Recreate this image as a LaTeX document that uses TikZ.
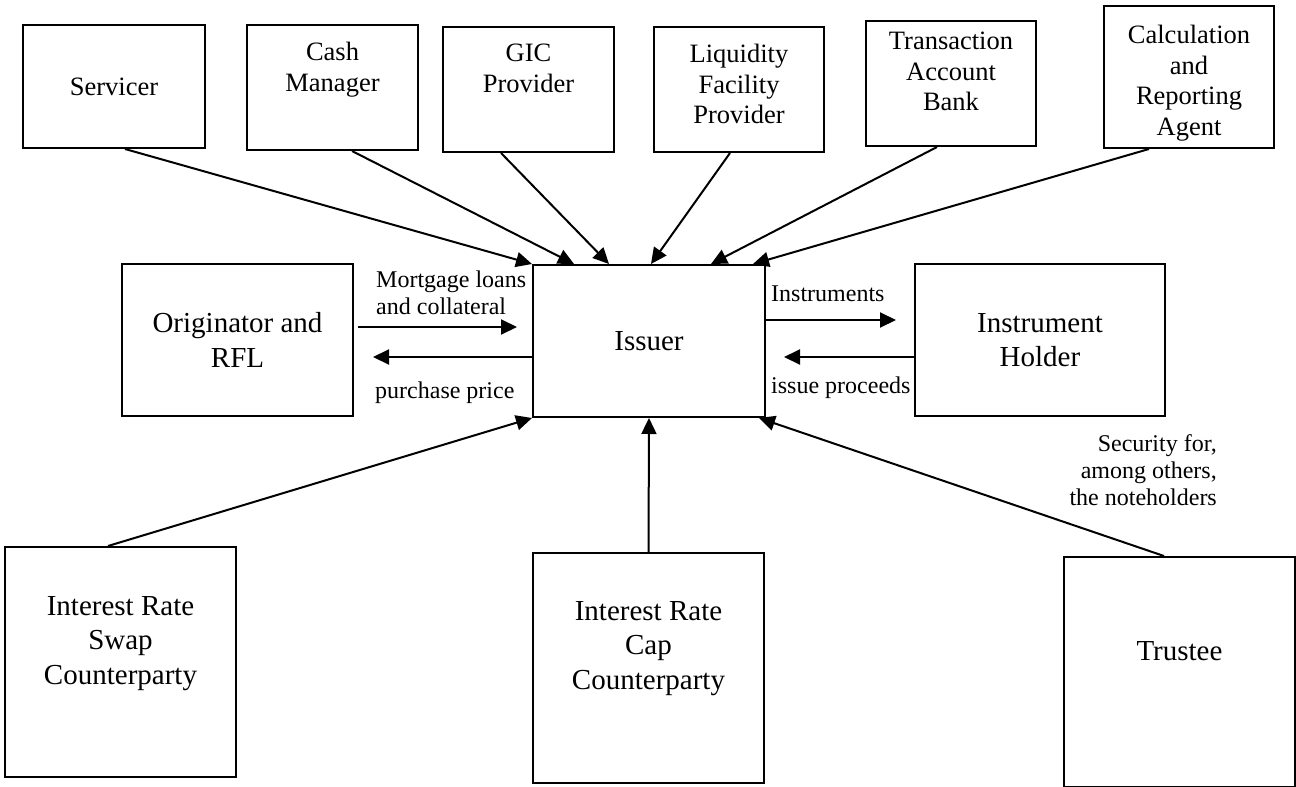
\documentclass[tikz,border=0pt]{standalone}
\usepackage{fontspec}
\setmainfont{Liberation Serif}
\usetikzlibrary{shapes, arrows.meta, positioning}

\begin{document}
\begin{tikzpicture}[x=1pt, y=-1pt,
    party/.style={rectangle, draw=black, line width=2pt, inner sep=0pt},
    toptext/.style={inner sep=0pt, align=center, font=\fontsize{26.5}{30.5}\selectfont},
    bigtext/.style={inner sep=0pt, align=center, font=\fontsize{29}{34.5}\selectfont},
    flowlabel/.style={inner sep=0pt, font=\fontsize{24}{27}\selectfont},
    flow/.style={-{Triangle[length=16pt,width=15pt]}, line width=2pt}]
    \useasboundingbox (0,0) rectangle (1296,787);

    % Define nodes
    \node (servicer) [party, minimum width=182pt, minimum height=123pt, font=\fontsize{26.5}{30.5}\selectfont] at (114,86.5) {Servicer};
    \node (cash) [party, minimum width=171pt, minimum height=125pt] at (332.5,87.5) {};
    \node (cashtxt) [toptext, below=18pt of cash.north] {Cash\\Manager};
    \node (gic) [party, minimum width=171pt, minimum height=125pt] at (528.5,89.5) {};
    \node (gictxt) [toptext, below=18pt of gic.north] {GIC\\Provider};
    \node (liquidity) [party, minimum width=170pt, minimum height=125pt] at (739,89.5) {};
    \node (liquiditytxt) [toptext, below=18pt of liquidity.north] {Liquidity\\Facility\\Provider};
    \node (bank) [party, minimum width=170pt, minimum height=125pt] at (951,83.5) {};
    \node (banktxt) [toptext, below=12pt of bank.north] {Transaction\\Account\\Bank};
    \node (agent) [party, minimum width=170pt, minimum height=142pt] at (1189,77) {};
    \node (agenttxt) [toptext, below=20pt of agent.north] {Calculation\\and\\Reporting\\Agent};

    \node (originator) [party, bigtext, minimum width=231pt, minimum height=152pt] at (237.5,340) {Originator and\\RFL};
    \node (issuer) [party, bigtext, minimum width=232pt, minimum height=152pt] at (649,341) {Issuer};
    \node (holder) [party, bigtext, minimum width=250pt, minimum height=152pt] at (1040,340) {Instrument\\Holder};

    \node (swap) [party, minimum width=231pt, minimum height=230pt] at (120.5,662) {};
    \node (swaptxt) [bigtext, below=50pt of swap.north] {Interest Rate\\Swap\\Counterparty};
    \node (cap) [party, minimum width=231pt, minimum height=230pt] at (648.5,668) {};
    \node (captxt) [bigtext, below=49pt of cap.north] {Interest Rate\\Cap\\Counterparty};
    \node (trustee) [party, minimum width=231pt, minimum height=230pt] at (1179.5,672) {};
    \node (trusteetxt) [bigtext, below=85pt of trustee.north] {Trustee};

    % Connect nodes
    \draw[flow] ([xshift=11pt]servicer.south) -- (issuer.north west);
    \draw[flow] ([xshift=19.5pt]cash.south) -- ([xshift=42pt]issuer.north west);
    \draw[flow] ([xshift=-27.5pt]gic.south) -- ([xshift=77pt]issuer.north west);
    \draw[flow] ([xshift=-9pt]liquidity.south) -- ([xshift=119pt]issuer.north west);
    \draw[flow] ([xshift=-14pt]bank.south) -- ([xshift=179pt]issuer.north west);
    \draw[flow] ([xshift=-40pt]agent.south) -- ([xshift=-13pt]issuer.north east);

    \draw[flow] ([xshift=4pt, yshift=13pt]originator.east) -- ([xshift=-15pt, yshift=14pt]issuer.west);
    \draw[flow] ([yshift=-16pt]issuer.west) -- ([xshift=19pt, yshift=-17pt]originator.east);
    \draw[flow] ([yshift=21pt]issuer.east) -- ([xshift=-18pt, yshift=20pt]holder.west);
    \draw[flow] ([yshift=-17pt]holder.west) -- ([xshift=18pt, yshift=-16pt]issuer.east);

    \draw[flow] ([xshift=-12.5pt]swap.north) -- (issuer.south west);
    \draw[flow] (cap.north) -- (issuer.south);
    \draw[flow] ([xshift=-15.5pt]trustee.north) -- ([xshift=-7pt]issuer.south east);

    % Flow labels
    \node (mortgage) [flowlabel, align=left, anchor=north west] at (376,271) {Mortgage loans\\and collateral};
    \node (price) [flowlabel, anchor=base west] at (375,398) {purchase price};
    \node (instruments) [flowlabel, anchor=base west] at (771,301) {Instruments};
    \node (proceeds) [flowlabel, anchor=base west] at (771,393) {issue proceeds};
    \node (security) [flowlabel, align=right, anchor=north east] at (1217,434) {Security for,\\among others,\\the noteholders};
\end{tikzpicture}
\end{document}
